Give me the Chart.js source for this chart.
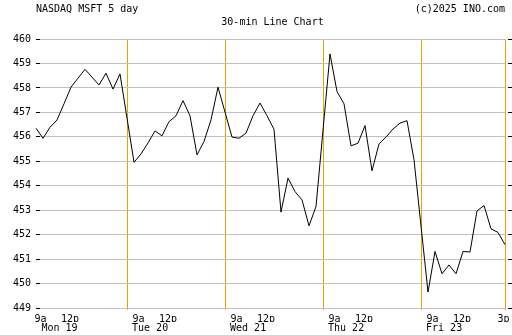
<!DOCTYPE html>
<html><head><meta charset="utf-8">
<script src="https://cdn.jsdelivr.net/npm/chart.js@4"></script>
<style>html,body{margin:0;padding:0;background:#fff}canvas{display:block}</style>
</head><body>
<canvas id="c" width="512" height="335"></canvas>
<script>
// ---- texts ----
const headerLeft = 'NASDAQ MSFT 5 day';
const headerRight = '(c)2025 INO.com';
const titleText = '30-min Line Chart';

// ---- categories ----
const days = ['Mon 19', 'Tue 20', 'Wed 21', 'Thu 22', 'Fri 23'];
const times = ['9:30','10:00','10:30','11:00','11:30','12:00','12:30','13:00','13:30','14:00','14:30','15:00','15:30'];

// ---- series values (30-min closes) ----
const mon = [456.35, 455.94, 456.39, 456.69, 457.35, 458.03, 458.40, 458.76, 458.44, 458.12, 458.60, 457.95, 458.57];
const tue = [454.96, 455.30, 455.75, 456.24, 456.04, 456.62, 456.86, 457.48, 456.86, 455.26, 455.81, 456.69, 458.03];
const wed = [455.99, 455.94, 456.15, 456.86, 457.38, 456.86, 456.31, 452.92, 454.31, 453.76, 453.42, 452.36, 453.15];
const thu = [459.39, 457.85, 457.35, 455.63, 455.74, 456.46, 454.61, 455.71, 455.99, 456.32, 456.56, 456.66, 455.06];
const fri = [449.65, 451.31, 450.40, 450.76, 450.40, 451.31, 451.29, 452.97, 453.19, 452.24, 452.09, 451.59, 450.63];

// ---- tick labels ----
const yTicks = [449, 450, 451, 452, 453, 454, 455, 456, 457, 458, 459, 460];
const hourLabels = ['9a', '12p'];
const lastLabel = '3p';

// ---- build data ----
const series = [mon, tue, wed, thu, fri];
const SLOTS = times.length + 1; // one empty slot between sessions
const points = [];
series.forEach((vals, d) => vals.forEach((v, k) => points.push({ x: d * SLOTS + k, y: v })));

const xMax = (days.length - 1) * SLOTS + times.indexOf('15:00');
const xMin = 4 / 7;
const noon = times.indexOf('12:00');

const timeTicks = [];
days.forEach((_, d) => {
  timeTicks.push({ value: d * SLOTS + 0.65, lab: hourLabels[0] });
  timeTicks.push({ value: d * SLOTS + noon - 0.15, lab: hourLabels[1] });
});
timeTicks.push({ value: xMax - 0.2, lab: lastLabel });

const edgeTicks = [];
for (let d = 1; d < days.length; d++) edgeTicks.push({ value: d * SLOTS - 1 });
edgeTicks.push({ value: xMax });

const dayTicks = days.map((name, d) => ({ value: d * SLOTS + (d === 0 ? 3.35 : 2.3), lab: name }));

const ORANGE = 'rgb(232,160,0)';
const GRID = '#c0c0c0';
const FONT = { family: 'DejaVu Sans Mono', size: 10 };

Chart.defaults.font.family = FONT.family;
Chart.defaults.font.size = FONT.size;
Chart.defaults.color = '#000';

const headerPlugin = {
  id: 'header',
  afterDraw(chart) {
    const { ctx, chartArea } = chart;
    ctx.save();
    ctx.font = FONT.size + 'px "' + FONT.family + '"';
    ctx.fillStyle = '#000';
    ctx.textBaseline = 'alphabetic';
    ctx.textAlign = 'left';
    ctx.fillText(headerLeft, chartArea.left - 4, 12);
    ctx.textAlign = 'right';
    ctx.fillText(headerRight, chartArea.right, 12);
    ctx.textAlign = 'center';
    ctx.fillText(titleText, (chartArea.left + chartArea.right) / 2, 25);
    ctx.restore();
  }
};

new Chart(document.getElementById('c'), {
  type: 'line',
  data: {
    datasets: [{
      data: points,
      borderColor: '#000',
      borderWidth: 1,
      pointRadius: 0,
      pointHoverRadius: 0,
      tension: 0,
      fill: false,
      clip: false
    }]
  },
  plugins: [headerPlugin],
  options: {
    responsive: false,
    animation: false,
    events: [],
    layout: { padding: { top: 39, left: 0, right: 0, bottom: 0 } },
    plugins: { legend: { display: false }, tooltip: { enabled: false }, title: { display: false } },
    scales: {
      xEdge: {
        type: 'linear', position: 'bottom', min: xMin, max: xMax, bounds: 'data', weight: 1,
        afterBuildTicks: s => { s.ticks = edgeTicks.map(t => Object.assign({}, t)); },
        ticks: { display: false, autoSkip: false },
        grid: { display: true, drawOnChartArea: true, drawTicks: true, color: ORANGE, tickColor: ORANGE, tickLength: 2, lineWidth: 1 },
        border: { display: false },
        afterFit: s => { s.height = 0; s.paddingLeft = 0; s.paddingRight = 0; }
      },
      x: {
        type: 'linear', position: 'bottom', min: xMin, max: xMax, bounds: 'data', weight: 2,
        afterBuildTicks: s => { s.ticks = timeTicks.map(t => Object.assign({}, t)); },
        ticks: { autoSkip: false, maxRotation: 0, padding: 5, callback: (v, i, t) => t[i].lab },
        grid: { display: false, drawTicks: false },
        border: { display: false },
        afterFit: s => { s.height = 14; s.paddingLeft = 0; s.paddingRight = 0; }
      },
      xDay: {
        type: 'linear', position: 'bottom', min: xMin, max: xMax, bounds: 'data', weight: 3,
        afterBuildTicks: s => { s.ticks = dayTicks.map(t => Object.assign({}, t)); },
        ticks: { autoSkip: false, maxRotation: 0, padding: 0, callback: (v, i, t) => t[i].lab },
        grid: { display: false, drawTicks: false },
        border: { display: false },
        afterFit: s => { s.height = 13; s.paddingLeft = 0; s.paddingRight = 0; }
      },
      y: {
        type: 'linear', position: 'left', min: yTicks[0], max: yTicks[yTicks.length - 1],
        afterBuildTicks: s => { s.ticks = yTicks.map(v => ({ value: v })); },
        ticks: { padding: 5, callback: v => String(v) },
        grid: { color: GRID, tickColor: '#000', tickLength: 4, lineWidth: 1 },
        border: { display: false },
        afterFit: s => { s.width = 40; }
      },
      y2: {
        type: 'linear', position: 'right', min: yTicks[0], max: yTicks[yTicks.length - 1],
        afterBuildTicks: s => { s.ticks = yTicks.map(v => ({ value: v })); },
        ticks: { display: false },
        grid: { drawOnChartArea: false, tickColor: '#000', tickLength: 7, tickBorderDash: [0, 3, 4, 10] },
        border: { display: false },
        afterFit: s => { s.width = 7; }
      }
    }
  }
});
</script>
</body></html>
